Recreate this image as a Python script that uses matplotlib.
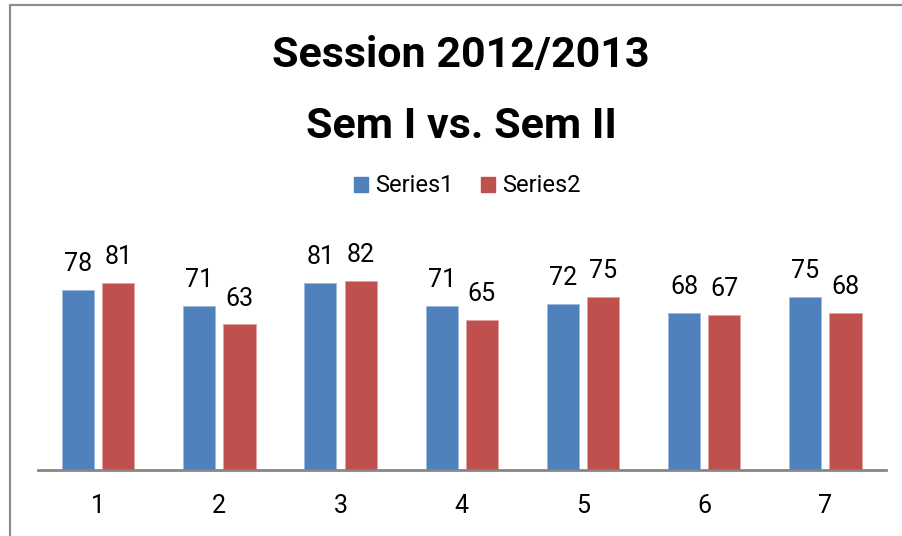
import matplotlib
matplotlib.use('Agg')
import matplotlib.pyplot as plt
from matplotlib import font_manager
from matplotlib.patches import Rectangle, Patch
import numpy as np

# datos del grafico
categories = ['1', '2', '3', '4', '5', '6', '7']
series1 = [78, 71, 81, 71, 72, 68, 75]
series2 = [81, 63, 82, 65, 75, 67, 68]
series_names = ['Series1', 'Series2']
title_lines = ['Session 2012/2013', 'Sem I vs. Sem II']

names = {f.name for f in font_manager.fontManager.ttflist}
fam = 'Liberation Sans Narrow' if 'Liberation Sans Narrow' in names else 'Roboto'
plt.rcParams['font.family'] = [fam, 'DejaVu Sans']

blue = '#4F81BD'
red = '#C0504D'

W, H = 902, 536
fig = plt.figure(figsize=(W / 100, H / 100), dpi=100)
fig.patch.set_facecolor('white')

# borde del area del grafico
fig.add_artist(Rectangle((9.5 / W, -0.1), 1.2, (H - 4.5) / H + 0.1,
                         transform=fig.transFigure, fill=False,
                         edgecolor='#8c8c8c', linewidth=1.6))

# area de trazado en pixeles
left, right, top, bottom = 37.5, 886, 239, 470
ax = fig.add_axes([left / W, (H - bottom) / H, (right - left) / W, (bottom - top) / H])

x = np.arange(len(categories))
bw = 0.265
off = 0.166
b1 = ax.bar(x - off, series1, bw, color=blue, edgecolor='#9fb8dc', linewidth=0.6)
b2 = ax.bar(x + off, series2, bw, color=red, edgecolor='#e0a3a1', linewidth=0.6)

for bars, vals in [(b1, series1), (b2, series2)]:
    for b, v in zip(bars, vals):
        ax.annotate(str(v), (b.get_x() + b.get_width() / 2, v),
                    xytext=(0, 10), textcoords='offset points',
                    ha='center', va='bottom', fontsize=18, color='black')

ax.set_xlim(-0.5, len(categories) - 0.5)
ax.set_ylim(0, 100)
ax.set_xticks(x)
ax.set_xticklabels(categories, fontsize=18)
ax.tick_params(axis='x', length=0, pad=17)
ax.set_yticks([])
for s in ['top', 'right', 'left']:
    ax.spines[s].set_visible(False)
ax.spines['bottom'].set_color('#868686')
ax.spines['bottom'].set_linewidth(2)

# titulo
tsize = 36 if fam == 'Liberation Sans Narrow' else 31
fig.text(461 / W, 1 - 55 / H, title_lines[0], ha='center', va='center',
         fontsize=tsize, fontweight='bold')
fig.text(461 / W, 1 - 126 / H, title_lines[1], ha='center', va='center',
         fontsize=tsize, fontweight='bold')

handles = [Patch(color=blue), Patch(color=red)]
fig.legend(handles, series_names, loc='center', bbox_to_anchor=(467 / W, 1 - 186 / H),
           ncol=2, frameon=False, fontsize=17, handlelength=0.6, handleheight=0.6,
           handletextpad=0.3, columnspacing=1.15)

fig.savefig('out.png', dpi=100)
